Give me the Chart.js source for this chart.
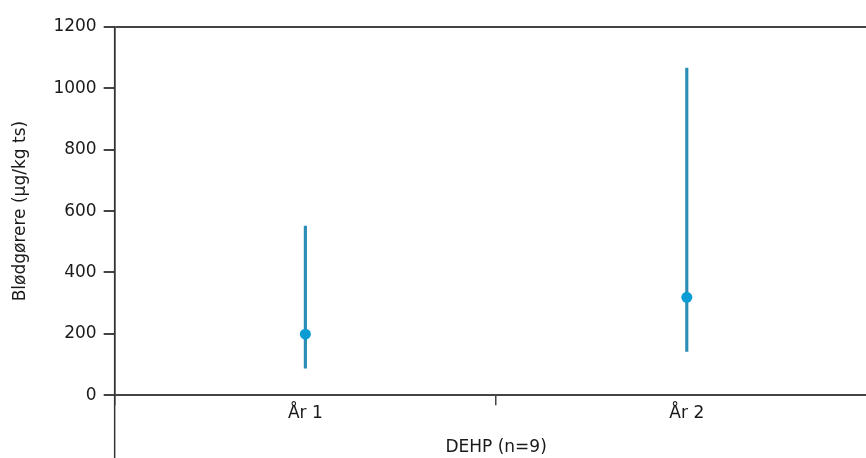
<!DOCTYPE html>
<html lang="da">
<head>
    <meta charset="UTF-8">
    <title>DEHP</title>
    <script src="https://cdn.jsdelivr.net/npm/chart.js"></script>
    <style>
        html, body {
            margin: 0;
            padding: 0;
            background: #fff;
            overflow: hidden;
        }
        #wrap {
            width: 883px;
            height: 458px;
        }
    </style>
</head>
<body>
    <div id="wrap"><canvas id="chart"></canvas></div>

    <script>
        const categories = ['År 1', 'År 2'];
        const medians = [199, 319];
        const lows = [88, 143];
        const highs = [551, 1066];
        const yTicks = [0, 200, 400, 600, 800, 1000, 1200];

        const ranges = categories.map((c, i) => [lows[i], highs[i]]);
        const font = { family: '"DejaVu Sans", Arial, sans-serif', size: 17 };

        // y-aksens linje fortsætter ned under x-aksen som i originalen
        const axisDown = {
            id: 'axisDown',
            afterDraw(chart) {
                const { ctx, chartArea } = chart;
                ctx.save();
                ctx.strokeStyle = '#333';
                ctx.lineWidth = 1.5;
                ctx.beginPath();
                ctx.moveTo(chartArea.left, chartArea.top);
                ctx.lineTo(chartArea.left, chart.height);
                ctx.stroke();
                ctx.restore();
            }
        };

        new Chart(document.getElementById('chart'), {
            type: 'bar',
            data: {
                labels: categories,
                datasets: [
                    {
                        type: 'line',
                        data: medians,
                        showLine: false,
                        pointRadius: 5.5,
                        pointBackgroundColor: '#0b9cd4',
                        pointBorderWidth: 0,
                        order: 0
                    },
                    {
                        data: ranges,
                        backgroundColor: '#2a8db5',
                        barThickness: 2.5,
                        borderWidth: 0,
                        order: 1
                    }
                ]
            },
            options: {
                responsive: true,
                maintainAspectRatio: false,
                animation: false,
                layout: { padding: { top: 27, left: 10, right: 0, bottom: 0 } },
                plugins: { legend: { display: false }, tooltip: { enabled: false } },
                scales: {
                    x: {
                        offset: true,
                        grid: {
                            offset: true,
                            color: 'transparent',
                            tickColor: '#444',
                            tickLength: 10,
                            lineWidth: 1.5
                        },
                        border: { display: false },
                        ticks: { color: '#1a1a1a', font: font, padding: -2 },
                        title: {
                            display: true,
                            text: 'DEHP (n=9)',
                            color: '#1a1a1a',
                            font: font,
                            padding: { top: 16, bottom: 0 }
                        }
                    },
                    y: {
                        min: 0,
                        max: 1200,
                        afterBuildTicks: axis => { axis.ticks = yTicks.map(v => ({ value: v })); },
                        grid: {
                            color: c => (c.tick && (c.tick.value === 0 || c.tick.value === 1200)) ? '#444' : 'transparent',
                            lineWidth: 2,
                            tickColor: '#444',
                            tickLength: 11
                        },
                        border: { display: true, color: '#333', width: 1.5 },
                        ticks: { color: '#1a1a1a', font: font, padding: 7, callback: v => String(v) },
                        title: {
                            display: true,
                            text: 'Blødgørere (µg/kg ts)',
                            color: '#1a1a1a',
                            font: font,
                            padding: { top: 0, bottom: 16 }
                        }
                    }
                }
            },
            plugins: [axisDown]
        });
    </script>
</body>
</html>
